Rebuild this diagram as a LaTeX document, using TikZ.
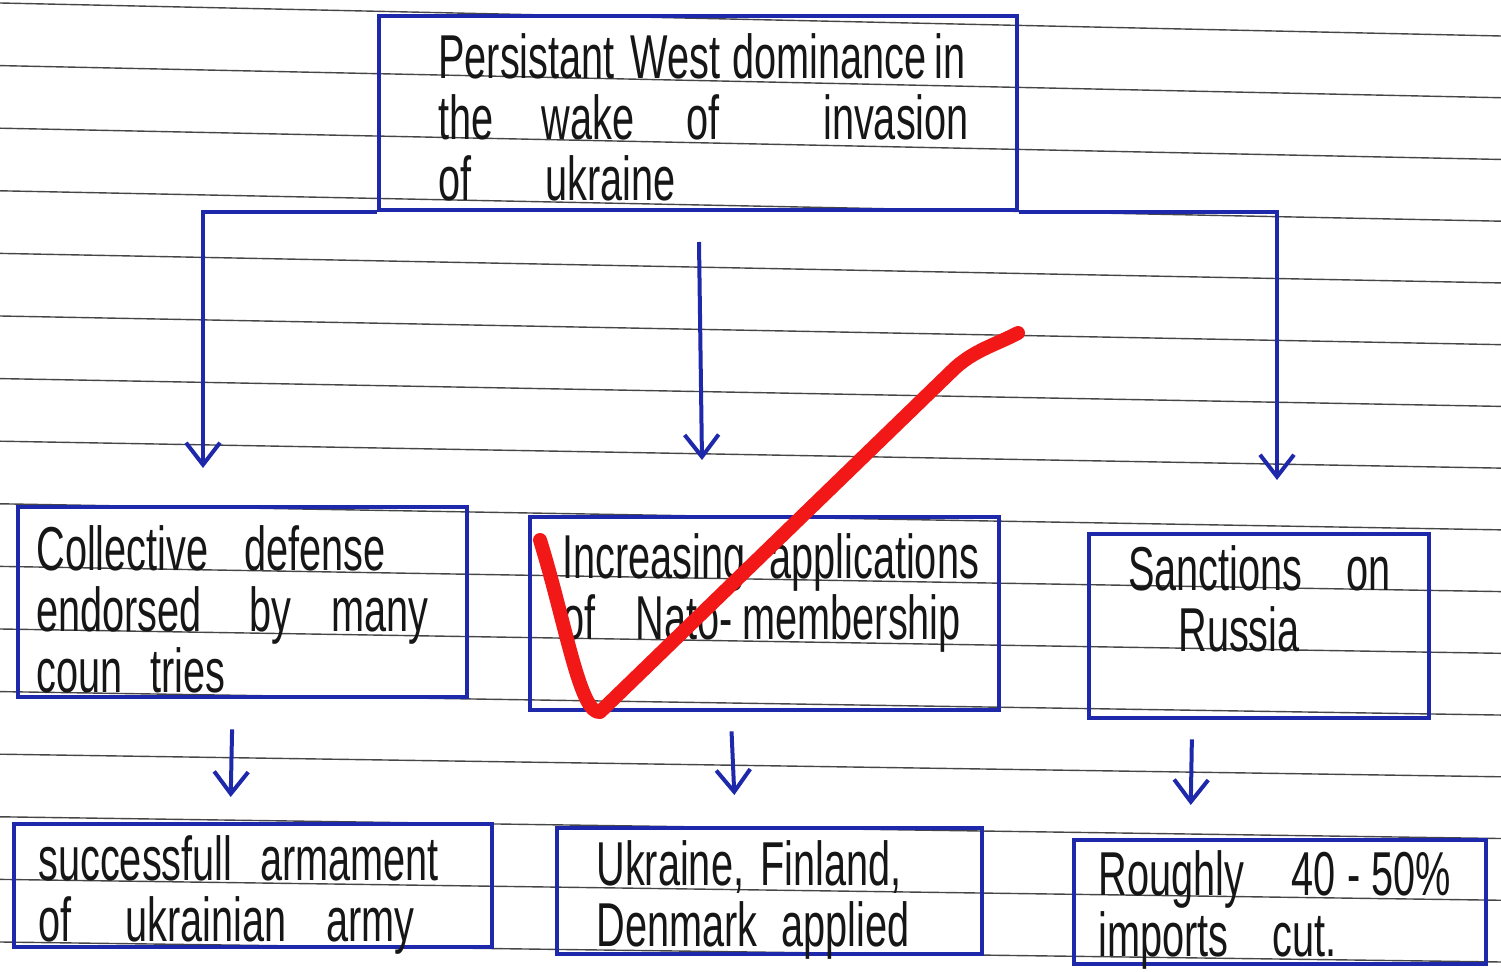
\documentclass[tikz,border=0pt]{standalone}
\usepackage{fontspec}
\usepackage{tikz}
\usetikzlibrary{arrows.meta}
\newfontfamily\handfont[FakeStretch=0.64]{Liberation Sans}
\definecolor{inkblue}{RGB}{30,40,170}
\definecolor{inkred}{RGB}{242,24,24}
\definecolor{ruling}{RGB}{70,70,70}
\definecolor{pencil}{RGB}{22,22,22}
%gap between two handwritten words
\newcommand{\wgap}[1]{\hspace{#1pt}}

\begin{document}
\begin{tikzpicture}[x=0.5pt,y=-0.5pt,
box/.style={draw=inkblue,line width=2.2pt,rectangle,inner sep=0pt,anchor=north west},
txt/.style={text=pencil,font=\handfont\fontsize{31}{30.5}\selectfont,align=left,anchor=north west,inner sep=0pt},
arr/.style={draw=inkblue,line width=2pt,-{Straight Barb[length=11pt,width=17pt]}}]
\useasboundingbox (0,0) rectangle (1501,972);

%ruled paper, the lines drop a bit to the right
\foreach \i in {0,...,15}{
	\pgfmathsetmacro\ly{3+62.6*\i}
	\pgfmathsetmacro\ry{\ly+33-13*\i/15}
	\draw[ruling,line width=0.7pt] (0,\ly) -- (1501,\ry);
}

%the boxes
\node[box,minimum width=319pt,minimum height=97pt] (top) at (377,14) {};
\node[box,minimum width=224.5pt,minimum height=95pt] (collective) at (16,505) {};
\node[box,minimum width=234.5pt,minimum height=96.5pt] (applications) at (528,515) {};
\node[box,minimum width=170pt,minimum height=92pt] (sanctions) at (1087,532) {};
\node[box,minimum width=239pt,minimum height=61.5pt] (armament) at (12,822) {};
\node[box,minimum width=212.5pt,minimum height=63pt] (applied) at (555,826) {};
\node[box,minimum width=206pt,minimum height=62pt] (imports) at (1072,838) {};

%the texts in them
\node[txt] (topT) at (438,33) {Persistant\wgap{8}West\wgap{6}dominance\wgap{4}in\\the\wgap{24}wake\wgap{26}of\wgap{52}invasion\\of\wgap{37}ukraine};
\node[txt] (collectiveT) at (36,525) {Collective\wgap{18}defense\\endorsed\wgap{24}by\wgap{20}many\\coun\wgap{14}tries};
\node[txt] (applicationsT) at (562,533) {Increasing\wgap{12}applications\\of\wgap{20}Nato-\wgap{5}membership};
\node[txt] (sanctionsT) at (1128,545) {Sanctions\wgap{22}on\\\wgap{25}Russia};
\node[txt] (armamentT) at (38,835) {successfull\wgap{14}armament\\of\wgap{27}ukrainian\wgap{20}army};
\node[txt] (appliedT) at (596,840) {Ukraine,\wgap{8}Finland,\\Denmark\wgap{12}applied};
\node[txt] (importsT) at (1098,850) {Roughly\wgap{24}40 - 50\%\\imports\wgap{22}cut.};

%arrows from the top box
\coordinate (tipL) at (203,468);
\coordinate (tipR) at (1277,480);
\coordinate (midtop) at (699,242);
\coordinate (tipM) at (702,460);
\draw[arr] (top.south west) -| (tipL);
\draw[arr] (top.south east) -| (tipR);
\draw[arr] (midtop) -- (tipM);

%short arrows down to the last row
\draw[arr,shorten <=15pt,shorten >=12.5pt] ([xshift=-5pt]collective.south) -- ([xshift=-11.5pt]armament.north);
\draw[arr,shorten <=9.5pt,shorten >=15.5pt] ([xshift=-17pt]applications.south) -- ([xshift=-17pt]applied.north);
\draw[arr,shorten <=9.5pt,shorten >=16.5pt] ([xshift=-33.5pt]sanctions.south) -- ([xshift=-45pt]imports.north);

%red tick over the middle
\draw[inkred,line width=7pt,line cap=round,line join=round] (540,540) .. controls (565,620) and (580,715) .. (600,712) -- (955,368) .. controls (975,350) and (995,345) .. (1018,333);
\end{tikzpicture}
\end{document}
